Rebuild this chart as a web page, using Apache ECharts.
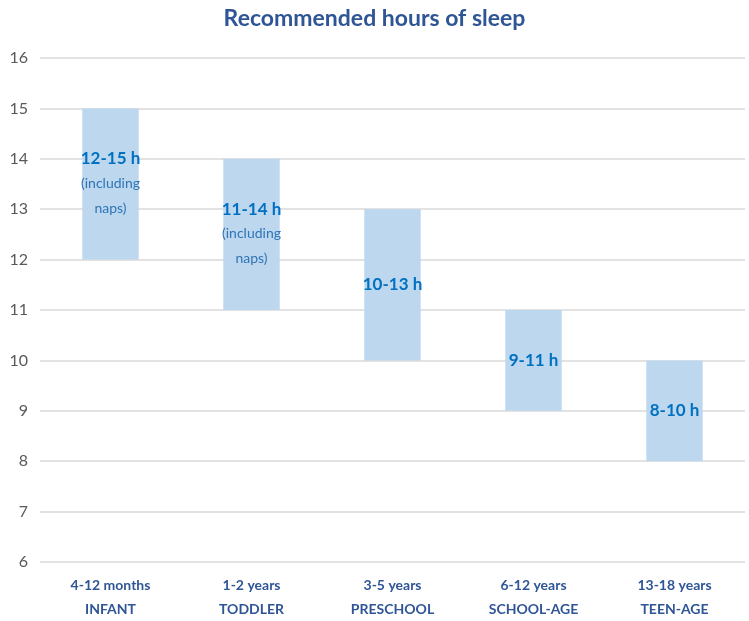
<!DOCTYPE html>
<html>
<head>
<meta charset="utf-8">
<script src="https://cdn.jsdelivr.net/npm/echarts@6/dist/echarts.min.js"></script>
<style>html,body{margin:0;padding:0;background:#fff}#c{width:749px;height:621px}</style>
</head>
<body>
<div id="c"></div>
<script>
const ageRanges = ['4-12 months', '1-2 years', '3-5 years', '6-12 years', '13-18 years'];
const groupNames = ['INFANT', 'TODDLER', 'PRESCHOOL', 'SCHOOL-AGE', 'TEEN-AGE'];
const lowHours = [12, 11, 10, 9, 8];
const highHours = [15, 14, 13, 11, 10];
const notes = ['(including\nnaps)', '(including\nnaps)', '', '', ''];
const yTicks = { min: 6, max: 16, interval: 1 };

const categories = ageRanges.map((a, i) => a + '\n' + groupNames[i]);
const spans = highHours.map((h, i) => h - lowHours[i]);

const FONT = 'Lato, "Open Sans", sans-serif';
const chart = echarts.init(document.getElementById('c'));
chart.setOption({
  animation: false,
  textStyle: { fontFamily: FONT },
  title: {
    text: 'Recommended hours of sleep',
    left: 'center',
    top: 2,
    textStyle: { fontFamily: FONT, fontSize: 23, fontWeight: 'bold', color: '#2F5597' }
  },
  grid: { left: 40, right: 4, top: 58, bottom: 58, containLabel: false },
  xAxis: {
    type: 'category',
    data: categories,
    axisLine: { show: false },
    axisTick: { show: false },
    axisLabel: {
      margin: 11,
      color: '#2F5597',
      fontWeight: 'bold',
      fontSize: 14,
      lineHeight: 24,
      fontFamily: FONT
    }
  },
  yAxis: {
    type: 'value',
    min: yTicks.min,
    max: yTicks.max,
    interval: yTicks.interval,
    axisLine: { show: false },
    axisTick: { show: false },
    splitLine: { lineStyle: { color: '#D9D9D9', width: 1.5 } },
    axisLabel: { color: '#595959', fontSize: 16, margin: 12, fontFamily: FONT }
  },
  series: [
    {
      type: 'bar',
      stack: 'range',
      data: lowHours,
      itemStyle: { color: 'transparent' },
      barWidth: '40%',
      silent: true
    },
    {
      type: 'bar',
      stack: 'range',
      data: spans,
      barWidth: '40%',
      itemStyle: { color: '#BDD7EE' },
      label: {
        show: true,
        position: 'inside',
        formatter: (p) => {
          const i = p.dataIndex;
          let s = '{a|' + lowHours[i] + '-' + highHours[i] + ' h}';
          if (notes[i]) s += '\n' + notes[i].split('\n').map(t => '{b|' + t + '}').join('\n');
          return s;
        },
        rich: {
          a: { color: '#0070C0', fontSize: 17, fontWeight: 'bold', lineHeight: 24, fontFamily: FONT },
          b: { color: '#2E75B6', fontSize: 14, lineHeight: 25, fontFamily: FONT }
        }
      }
    }
  ]
});
</script>
</body>
</html>
